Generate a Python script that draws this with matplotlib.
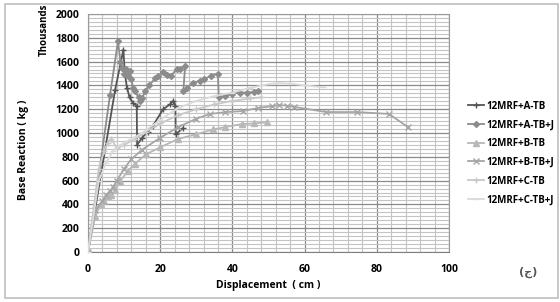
import matplotlib.pyplot as plt
from matplotlib.ticker import MultipleLocator, FuncFormatter
from matplotlib.patches import Rectangle

# datos (x en cm, y en kg / 1000)
a_tb_x = [0, 7.5, 9.8, 10.2, 10.8, 11.5, 12.5, 13.5, 13.6, 15, 16.5, 18, 20.8, 22.7, 23.6, 24.2, 24.3, 26.3]
a_tb_y = [0, 1360, 1700, 1500, 1380, 1300, 1250, 1230, 900, 960, 1010, 1060, 1200, 1240, 1270, 1230, 990, 1040]

a_tbj_x = [0, 6.1, 8.3, 9, 9.5, 10, 10.5, 11, 11.5, 12, 12.5, 13, 14, 14.4, 15, 15.8, 17, 18.6, 19.5, 20.8,
           22, 23, 24.6, 25.5, 26.9, 26.4, 27.5, 29, 31, 32, 34, 36, 36.2, 38, 40, 42, 44, 46, 47]
a_tbj_y = [0, 1320, 1770, 1600, 1550, 1500, 1540, 1480, 1520, 1450, 1380, 1350, 1300, 1270, 1290, 1350,
           1400, 1460, 1480, 1510, 1490, 1480, 1540, 1540, 1560, 1350, 1380, 1420, 1440, 1450, 1480, 1500,
           1300, 1310, 1330, 1340, 1340, 1345, 1350]

b_tb_x = [0, 2, 3.5, 4.5, 5.5, 6.5, 7.5, 9, 11, 13, 16, 20, 25, 30, 34.7, 38, 42.6, 46, 49.5]
b_tb_y = [0, 300, 400, 430, 470, 480, 520, 600, 680, 740, 820, 880, 950, 990, 1030, 1050, 1075, 1080, 1090]

b_tbj_x = [0, 2, 4, 5, 6, 7, 8, 10, 12, 15, 20, 25, 30, 33.8, 38, 43, 47, 51, 53, 55, 57, 66, 74.5, 83.4, 88.6]
b_tbj_y = [0, 350, 430, 480, 510, 550, 600, 700, 780, 860, 960, 1050, 1120, 1160, 1175, 1185, 1210, 1225,
           1235, 1230, 1220, 1176, 1176, 1160, 1050]

c_tb_x = [0, 3, 4.5, 5.5, 6.5, 8, 10, 13, 16, 20, 25, 30, 35, 40, 45, 48]
c_tb_y = [0, 700, 850, 920, 950, 870, 900, 950, 1010, 1080, 1150, 1200, 1240, 1270, 1290, 1300]

c_tbj_x = [0, 3, 5, 7, 9, 12, 15, 20, 25, 30, 35, 40, 45, 50, 52.5, 56, 60, 65]
c_tbj_y = [0, 600, 750, 850, 900, 950, 1000, 1110, 1210, 1270, 1310, 1340, 1380, 1410, 1420, 1415, 1400, 1385]

series = [
    ('12MRF+A-TB', a_tb_x, a_tb_y, '#555555', '+', 5),
    ('12MRF+A-TB+J', a_tbj_x, a_tbj_y, '#8c8c8c', 'D', 3),
    ('12MRF+B-TB', b_tb_x, b_tb_y, '#b8b8b8', '^', 4),
    ('12MRF+B-TB+J', b_tbj_x, b_tbj_y, '#a6a6a6', 'x', 4),
    ('12MRF+C-TB', c_tb_x, c_tb_y, '#c8c8c8', '+', 4),
    ('12MRF+C-TB+J', c_tbj_x, c_tbj_y, '#dadada', '_', 5),
]

plt.rcParams['font.family'] = ['Open Sans', 'DejaVu Sans']
plt.rcParams['font.weight'] = 'bold'

fig = plt.figure(figsize=(5.6, 3.02), dpi=100)
fig.patches.append(Rectangle((5 / 560, 4 / 302), 553 / 560, 294 / 302, transform=fig.transFigure,
                             fill=False, edgecolor='#bfbfbf', linewidth=1.2))
ax = fig.add_axes([88 / 560, 50 / 302, 361 / 560, 238 / 302])

for nombre, xs, ys, color, marcador, tam in series:
    ax.plot(xs, ys, color=color, marker=marcador, markersize=tam, linewidth=1.3,
            markeredgewidth=1.0, label=nombre, zorder=3)

ax.set_xlim(0, 100)
ax.set_ylim(0, 2000)
ax.xaxis.set_major_locator(MultipleLocator(20))
ax.xaxis.set_minor_locator(MultipleLocator(4))
ax.yaxis.set_major_locator(MultipleLocator(200))
ax.yaxis.set_minor_locator(MultipleLocator(200 / 6))
ax.grid(which='major', color='#8a8a8a', linewidth=0.9)
ax.grid(which='minor', color='#c4c4c4', linewidth=0.8)
ax.set_axisbelow(True)
for s in ax.spines.values():
    s.set_color('#9a9a9a')
ax.spines['bottom'].set_color('#808080')
ax.tick_params(which='both', length=0, labelsize=7.5, pad=6)
ax.tick_params(axis='x', pad=9)
ax.yaxis.set_major_formatter(FuncFormatter(lambda v, p: f'{int(v)}'))
for t in ax.get_xticklabels() + ax.get_yticklabels():
    t.set_fontweight('bold')

ax.set_xlabel('Displacement  ( cm )', fontsize=7.5, fontweight='bold', labelpad=3)
fig.text(24 / 560, 1 - 150 / 302, 'Base Reaction ( kg )', rotation=90, fontsize=7.5,
         fontweight='bold', ha='center', va='center')
fig.text(44 / 560, 1 - 30 / 302, 'Thousands', rotation=90, fontsize=7,
         fontweight='bold', ha='center', va='center')

leg = ax.legend(loc='center left', bbox_to_anchor=(468 / 560, 1 - 153 / 302),
                bbox_transform=fig.transFigure, frameon=False,
                handlelength=1.6, labelspacing=0.8, handletextpad=0.3,
                borderpad=0, borderaxespad=0, prop={'weight': 'bold', 'size': 7})

fig.text(528 / 560, 1 - 272 / 302, '(ج)', fontsize=8, family='DejaVu Sans',
         color='#555555', ha='center', va='center')

fig.savefig('out.png', dpi=100)
